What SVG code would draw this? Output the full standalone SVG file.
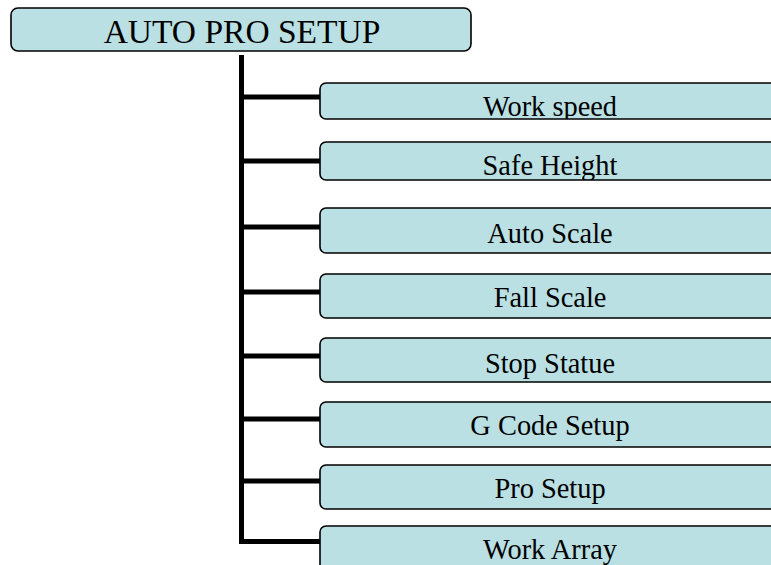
<svg xmlns="http://www.w3.org/2000/svg" width="771" height="565" viewBox="0 0 771 565">
<style>
.box{fill:#BAE0E3;stroke:#000;stroke-width:1.6}
.t{font-family:'Liberation Serif','Times New Roman',serif;fill:#000;text-anchor:middle}
.child{font-size:28.4px}
.title{font-size:33.5px}
.con{stroke:#000;stroke-width:5;fill:none}
</style>
<defs>
<clipPath id="c1"><rect x="320" y="83" width="460" height="36"/></clipPath>
<clipPath id="c2"><rect x="320" y="142" width="460" height="38"/></clipPath>
<clipPath id="c6"><rect x="320" y="402" width="460" height="45"/></clipPath>
</defs>
<rect width="771" height="565" fill="#fff"/>
<g id="connectors">
<line class="con" x1="241.5" y1="55" x2="241.5" y2="544"/>
<line class="con" x1="241" y1="97" x2="321" y2="97"/>
<line class="con" x1="241" y1="161" x2="321" y2="161"/>
<line class="con" x1="241" y1="227" x2="321" y2="227"/>
<line class="con" x1="241" y1="292" x2="321" y2="292"/>
<line class="con" x1="241" y1="356" x2="321" y2="356"/>
<line class="con" x1="241" y1="419" x2="321" y2="419"/>
<line class="con" x1="241" y1="481" x2="321" y2="481"/>
<line class="con" x1="241" y1="541.5" x2="321" y2="541.5"/>
</g>
<g id="root">
<rect class="box" x="11" y="8" width="460" height="43" rx="7"/>
<text class="t title" x="242" y="43">AUTO PRO SETUP</text>
</g>
<g id="work-speed">
<rect class="box" x="320" y="83" width="460" height="36" rx="6"/>
<text class="t child" x="550" y="116" clip-path="url(#c1)">Work speed</text>
</g>
<g id="safe-height">
<rect class="box" x="320" y="142" width="460" height="38" rx="6"/>
<text class="t child" x="550" y="175" clip-path="url(#c2)">Safe Height</text>
</g>
<g id="auto-scale">
<rect class="box" x="320" y="208" width="460" height="45" rx="6"/>
<text class="t child" x="550" y="243">Auto Scale</text>
</g>
<g id="fall-scale">
<rect class="box" x="320" y="274" width="460" height="44" rx="6"/>
<text class="t child" x="550" y="307">Fall Scale</text>
</g>
<g id="stop-statue">
<rect class="box" x="320" y="338" width="460" height="44" rx="6"/>
<text class="t child" x="550" y="373">Stop Statue</text>
</g>
<g id="g-code-setup">
<rect class="box" x="320" y="402" width="460" height="45" rx="6"/>
<text class="t child" x="550" y="435" clip-path="url(#c6)">G Code Setup</text>
</g>
<g id="pro-setup">
<rect class="box" x="320" y="465" width="460" height="44" rx="6"/>
<text class="t child" x="550" y="498">Pro Setup</text>
</g>
<g id="work-array">
<rect class="box" x="320" y="526" width="460" height="46" rx="6"/>
<text class="t child" x="550" y="559">Work Array</text>
</g>
</svg>
